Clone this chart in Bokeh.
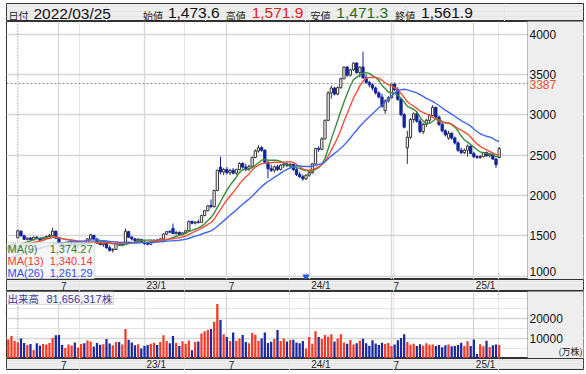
import numpy as np
import pandas as pd
from bokeh.plotting import figure
from bokeh.models import (ColumnDataSource, Range1d, FixedTicker, Grid, Span, Label,
                          LabelSet, BoxAnnotation)
from bokeh.layouts import column
from bokeh.embed import file_html
from bokeh.resources import INLINE
from bokeh.core.properties import value

# ---------------- data (weekly, week-ending Fridays) ----------------
first_friday = "2022-03-04"
cursor_day = "2022-03-25"

opens = [
    1330, 1360, 1390, 1473.6, 1555, 1500, 1455, 1470, 1450, 1480,
    1465, 1445, 1470, 1490, 1500, 1555, 1470, 1400, 1370, 1385,
    1395, 1400, 1370, 1390, 1405, 1400, 1460, 1505, 1460, 1410,
    1390, 1410, 1350, 1320, 1330, 1405, 1385, 1395, 1550, 1480,
    1460, 1440, 1455, 1420, 1400, 1395, 1420, 1445, 1435, 1460,
    1520, 1550, 1590, 1525, 1540, 1515, 1535, 1560, 1675, 1655,
    1670, 1665, 1750, 1810, 1875, 1860, 2060, 2350, 2290, 2320,
    2280, 2310, 2275, 2320, 2395, 2350, 2330, 2360, 2470, 2550,
    2590, 2560, 2410, 2330, 2310, 2355, 2320, 2375, 2390, 2370,
    2385, 2320, 2260, 2230, 2205, 2250, 2280, 2390, 2580, 2570,
    2700, 2930, 3270, 3330, 3255, 3335, 3445, 3590, 3490, 3555,
    3640, 3520, 3590, 3460, 3400, 3370, 3330, 3270, 3220, 3050,
    3170, 3210, 3380, 3310, 3190, 3000, 2590, 2720, 2940, 3010,
    2920, 2790, 2880, 2930, 2990, 3090, 2970, 2880, 2800, 2710,
    2770, 2710, 2650, 2560, 2530, 2560, 2610, 2520, 2480, 2470,
    2480, 2530, 2490, 2510, 2450, 2470]

highs = [
    1370, 1400, 1410, 1571.9, 1565, 1510, 1480, 1485, 1490, 1495,
    1475, 1480, 1500, 1520, 1600, 1565, 1480, 1420, 1400, 1410,
    1420, 1415, 1400, 1420, 1425, 1470, 1525, 1510, 1470, 1430,
    1420, 1420, 1380, 1345, 1415, 1420, 1410, 1590, 1560, 1500,
    1475, 1470, 1460, 1430, 1415, 1430, 1455, 1460, 1470, 1530,
    1560, 1570, 1650, 1560, 1555, 1545, 1575, 1690, 1690, 1680,
    1700, 1760, 1820, 1880, 1950, 2070, 2320, 2480, 2340, 2350,
    2330, 2340, 2330, 2410, 2410, 2390, 2380, 2480, 2570, 2620,
    2610, 2570, 2430, 2380, 2370, 2380, 2390, 2400, 2410, 2400,
    2390, 2340, 2290, 2260, 2260, 2300, 2400, 2590, 2610, 2720,
    2940, 3290, 3360, 3345, 3350, 3460, 3600, 3600, 3570, 3650,
    3650, 3600, 3780, 3500, 3420, 3390, 3350, 3290, 3260, 3190,
    3230, 3395, 3400, 3340, 3210, 3020, 2800, 2960, 3030, 3040,
    2950, 2900, 2950, 3010, 3120, 3100, 2990, 2900, 2820, 2800,
    2780, 2730, 2670, 2590, 2580, 2630, 2620, 2540, 2500, 2500,
    2540, 2545, 2530, 2520, 2460, 2600]

lows = [
    1310, 1345, 1375, 1471.3, 1490, 1445, 1440, 1445, 1440, 1455,
    1430, 1440, 1460, 1480, 1495, 1460, 1390, 1350, 1340, 1360,
    1375, 1360, 1350, 1375, 1385, 1395, 1455, 1450, 1400, 1380,
    1360, 1340, 1300, 1290, 1325, 1370, 1370, 1390, 1470, 1440,
    1420, 1425, 1410, 1390, 1380, 1385, 1410, 1420, 1430, 1455,
    1510, 1530, 1520, 1515, 1500, 1505, 1525, 1555, 1640, 1640,
    1650, 1660, 1740, 1800, 1840, 1850, 2050, 2260, 2250, 2260,
    2250, 2260, 2250, 2310, 2330, 2300, 2300, 2350, 2460, 2530,
    2540, 2390, 2210, 2290, 2280, 2300, 2310, 2340, 2350, 2330,
    2300, 2240, 2220, 2180, 2190, 2230, 2270, 2380, 2540, 2560,
    2690, 2920, 3200, 3240, 3240, 3320, 3440, 3470, 3470, 3540,
    3510, 3460, 3440, 3380, 3340, 3300, 3250, 3200, 3090, 3010,
    3150, 3200, 3290, 3170, 2980, 2830, 2390, 2700, 2900, 2900,
    2770, 2760, 2850, 2900, 2980, 2950, 2860, 2780, 2730, 2690,
    2690, 2630, 2540, 2510, 2510, 2480, 2510, 2460, 2450, 2450,
    2470, 2480, 2470, 2440, 2340, 2460]

closes = [
    1360, 1390, 1400, 1561.9, 1500, 1455, 1470, 1450, 1480, 1465,
    1445, 1470, 1490, 1505, 1555, 1470, 1400, 1370, 1385, 1395,
    1400, 1370, 1390, 1405, 1400, 1460, 1510, 1460, 1410, 1390,
    1410, 1350, 1320, 1330, 1405, 1385, 1395, 1555, 1480, 1460,
    1440, 1455, 1420, 1400, 1395, 1420, 1445, 1435, 1460, 1520,
    1550, 1545, 1525, 1540, 1515, 1535, 1560, 1675, 1655, 1670,
    1665, 1750, 1810, 1870, 1860, 2060, 2310, 2290, 2320, 2280,
    2310, 2275, 2320, 2395, 2350, 2330, 2360, 2470, 2550, 2590,
    2560, 2410, 2330, 2310, 2355, 2320, 2375, 2390, 2370, 2385,
    2320, 2260, 2230, 2205, 2250, 2280, 2390, 2580, 2570, 2700,
    2930, 3270, 3330, 3255, 3335, 3445, 3590, 3490, 3555, 3640,
    3520, 3590, 3460, 3400, 3370, 3330, 3270, 3220, 3100, 3170,
    3210, 3380, 3310, 3190, 3000, 2845, 2720, 2940, 3010, 2920,
    2790, 2880, 2930, 2990, 3090, 2970, 2880, 2800, 2750, 2770,
    2710, 2650, 2560, 2530, 2560, 2610, 2520, 2480, 2470, 2480,
    2530, 2490, 2510, 2450, 2380, 2580]

# weekly volume, in units of 10,000 shares (万株)
volumes = [
    9500, 11200, 8900, 8166, 10000, 7700, 6800, 7200, 4300, 7600,
    6500, 7300, 7000, 7800, 10300, 11600, 11800, 6800, 5200, 7000,
    6500, 8000, 5500, 7300, 7600, 9000, 8500, 6000, 7800, 6900,
    7100, 9800, 7500, 6600, 8300, 8200, 7000, 14800, 9400, 8000,
    6600, 7100, 5000, 6200, 6800, 7400, 7900, 6800, 8300, 11600,
    8800, 7600, 11200, 7700, 6300, 8600, 7400, 9000, 4100, 8200,
    8500, 12500, 13600, 14300, 14800, 18400, 27300, 19300, 12100, 10800,
    8800, 13000, 8900, 10000, 11800, 8300, 7600, 12800, 11900, 8900,
    10000, 13000, 7800, 8400, 9800, 14300, 8700, 10000, 8500, 9200,
    9400, 8000, 7600, 8800, 5000, 10700, 7400, 13600, 10800, 9800,
    11700, 10900, 12100, 8500, 10000, 12100, 8000, 7400, 9200, 7000,
    7600, 8900, 9900, 7600, 6400, 9100, 7500, 6800, 7900, 7200,
    7800, 6300, 7000, 9100, 10300, 12100, 8300, 6900, 7400, 6300,
    7100, 6400, 7600, 6900, 7000, 6200, 6800, 5600, 6600, 7000,
    6100, 6200, 6800, 7900, 6300, 8600, 6200, 9500, 2300, 7100,
    6100, 8900, 5800, 6600, 7000, 6800]

# closes of the weeks before the first drawn week (needed for the moving averages)
prior_closes = [1100, 1090, 1110,
                1120, 1135, 1150, 1160, 1165, 1175, 1180, 1190, 1195, 1200, 1210, 1225, 1267,
                1240, 1255, 1270, 1288,
                1314, 1334, 1329, 1349, 1325]

ma_periods = [9, 13, 26]
ma_names = ["MA(9)", "MA(13)", "MA(26)"]
ma_values_text = ["1,374.27", "1,340.14", "1,261.29"]

month_starts = ["2022-07-01", "2023-01-01", "2023-07-01", "2024-01-01", "2024-07-01", "2025-01-01"]
month_labels = ["7", "23/1", "7", "24/1", "7", "25/1"]
price_ticks = [1000, 1500, 2000, 2500, 3000, 3500, 4000]
vol_ticks = [10000, 20000]
ref_price = 3387
event_days = ["2023-12-22"]

hdr_labels = ["日付", "始値", "高値", "安値", "終値"]
hdr_values = ["2022/03/25", "1,473.6", "1,571.9", "1,471.3", "1,561.9"]
vol_title = "出来高"
vol_value = "81,656,317株"
vol_unit = "(万株)"

# ---------------- derived ----------------
dates = pd.date_range(first_friday, periods=len(closes), freq="7D")
o = np.array(opens, float); c = np.array(closes, float)
allc = pd.Series(prior_closes + closes, dtype=float)
n0 = len(prior_closes)
mas = [allc.rolling(n, min_periods=1).mean().to_numpy()[n0:] for n in ma_periods]

UP_LINE = "#333333"; DOWN = "#13239b"
up = c >= o
src = ColumnDataSource(dict(
    date=dates, high=highs, low=lows,
    top=np.maximum(o, c), bottom=np.minimum(o, c),
    wick=[UP_LINE if u else DOWN for u in up],
    fill=["#ffffff" if u else DOWN for u in up],
    vol=volumes,
    vcol=["#f23c28" if cc > oo else ("#1c2a9c" if cc < oo else "#999999") for oo, cc in zip(o, c)],
    ma9=mas[0], ma13=mas[1], ma26=mas[2],
))

def ms(ts):
    return pd.Timestamp(ts).value / 1e6

tick_ms = [ms(dates[dates < pd.Timestamp(m)].max()) for m in month_starts]
cursor_ms = ms(cursor_day)

W = 579            # total width
FW = 577           # frame width (data area + axis panel)
DW = 521           # data area width
PX_PER_WEEK = 3.167
px_ms = 7 * 86400000 / PX_PER_WEEK
x0 = cursor_ms - 11.3 * px_ms
xr = Range1d(x0, x0 + FW * px_ms)
GRAY = "#eeeeee"
GRID = "#d6d6d6"
FONT = "Liberation Sans"
JFONT = "Noto Sans CJK JP"
body_w = 5 * 86400000

def base(h, yr, bg="white"):
    f = figure(width=W, height=h, x_range=xr, y_range=yr,
               x_axis_location=None, y_axis_location=None,
               min_border_left=1, min_border_right=1, min_border_top=0, min_border_bottom=0,
               background_fill_color=bg, border_fill_color=GRAY,
               outline_line_color="#333333", output_backend="svg", toolbar_location=None)
    return f

def axis_panel(f, ticks, labels, lift=None):
    f.add_layout(BoxAnnotation(left=DW, right=FW + 2, bottom=-2, top=f.height + 2,
                               left_units="screen", right_units="screen",
                               bottom_units="screen", top_units="screen",
                               fill_color=GRAY, fill_alpha=1.0, line_color="#333333",
                               line_width=1))
    s = ColumnDataSource(dict(y=ticks, t=labels, dy=lift if lift else [0] * len(ticks)))
    f.add_layout(LabelSet(x=DW + 2, y="y", text="t", x_units="screen", y_offset="dy", source=s,
                          text_font=value(FONT), text_font_size="12px",
                          text_color="#111111", text_baseline="middle"))

# ---------------- header ----------------
hdr = figure(width=W, height=18, x_range=Range1d(0, W), y_range=Range1d(0, 18),
             x_axis_location=None, y_axis_location=None, min_border=0,
             background_fill_color=GRAY, border_fill_color=GRAY,
             outline_line_color="#333333", output_backend="svg", toolbar_location=None)
hdr.text(x=[2, 137, 220, 305, 390], y=[6.5] * 5, text=hdr_labels,
         text_font=value(JFONT), text_font_size="10px", text_color="#222222",
         text_baseline="middle")
hdr.text(x=[27, 162, 246, 331, 416], y=[8.5] * 5, text=hdr_values,
         text_color=["#111111", "#111111", "#e8201a", "#1e6e1e", "#111111"],
         text_font=value(FONT), text_font_size="15.5px", text_baseline="middle")

# ---------------- price chart ----------------
p = base(258, Range1d(957, 4155))
p.add_layout(Grid(dimension=1, ticker=FixedTicker(ticks=price_ticks),
                  grid_line_color=GRID, grid_line_width=1.3))
p.add_layout(Grid(dimension=0, ticker=FixedTicker(ticks=tick_ms),
                  grid_line_color=GRID, grid_line_width=1.3))
p.add_layout(Span(location=ref_price, dimension="width", line_color="#888888",
                  line_dash="2 2", line_width=1))
p.add_layout(Span(location=cursor_ms, dimension="height", line_color="#777777",
                  line_dash="1 2", line_width=1))

p.segment(x0="date", y0="low", x1="date", y1="high", line_color="wick", line_width=1, source=src)
p.vbar(x="date", width=body_w, top="top", bottom="bottom", fill_color="fill",
       line_color="wick", line_width=1, source=src)
ma_colors = ["#3a8c3a", "#f0503c", "#4466ee"]
for col, mc in zip(["ma9", "ma13", "ma26"], ma_colors):
    p.line(x="date", y=col, line_color=mc, line_width=1.4, source=src)

p.scatter(x=[ms(d) for d in event_days], y=[992] * len(event_days), marker="inverted_triangle",
          size=6, fill_color="#2a5ae8", line_color="#2a5ae8")

axis_panel(p, price_ticks, [str(t) for t in price_ticks], lift=[5, 0, 0, 0, 0, 0, 0])
p.add_layout(Label(x=DW + 2, y=ref_price, x_units="screen", y_units="data", text=str(ref_price),
                   text_color="#e8502a", text_font=FONT, text_font_size="12px",
                   text_baseline="middle", y_offset=-1))

p.add_layout(BoxAnnotation(left=0, right=88, bottom=0, top=37, left_units="screen",
                           right_units="screen", bottom_units="screen", top_units="screen",
                           fill_color="#f4f4f4", fill_alpha=0.8, line_color="#9a9a9a",
                           line_width=1))
leg_colors = ["#2e7d32", "#f0403a", "#3050f0"]
for i, (nm, vv, lc) in enumerate(zip(ma_names, ma_values_text, leg_colors)):
    yc = 31 - i * 12
    p.add_layout(Label(x=1, y=yc, x_units="screen", y_units="screen", text=nm, text_color=lc,
                       text_font=FONT, text_font_size="11px", text_baseline="middle"))
    p.add_layout(Label(x=86, y=yc, x_units="screen", y_units="screen", text=vv, text_color=lc,
                       text_font=FONT, text_font_size="11px", text_baseline="middle",
                       text_align="right"))

# ---------------- date bands ----------------
def band(h):
    b = base(h, Range1d(0, 1), bg=GRAY)
    b.text(x=tick_ms, y=[0.5] * len(tick_ms), text=month_labels, x_offset=2,
           text_align="left", text_baseline="middle", text_font=value(FONT),
           text_font_size="10px", text_color="#222222")
    return b

b1 = band(12)

# ---------------- volume chart ----------------
v = base(67, Range1d(0, 33500))
v.add_layout(Grid(dimension=1, ticker=FixedTicker(ticks=vol_ticks),
                  grid_line_color=GRID, grid_line_width=1.3))
v.add_layout(Grid(dimension=0, ticker=FixedTicker(ticks=tick_ms),
                  grid_line_color=GRID, grid_line_width=1.3))
v.add_layout(Span(location=cursor_ms, dimension="height", line_color="#777777",
                  line_dash="1 2", line_width=1))
v.vbar(x="date", width=body_w, top="vol", bottom=0, fill_color="vcol", line_color=None, source=src)
axis_panel(v, vol_ticks, [str(t) for t in vol_ticks])
v.add_layout(Label(x=FW - 1, y=7, x_units="screen", y_units="screen", text=vol_unit,
                   text_font=JFONT, text_font_size="9px", text_align="right",
                   text_baseline="middle", text_color="#222222"))
v.add_layout(BoxAnnotation(left=0, right=107, bottom=54, top=67, left_units="screen",
                           right_units="screen", bottom_units="screen", top_units="screen",
                           fill_color="#f4f4f4", fill_alpha=0.85, line_color="#9a9a9a",
                           line_width=1))
v.add_layout(Label(x=1, y=60, x_units="screen", y_units="screen", text=vol_title,
                   text_font=JFONT, text_font_size="10.5px", text_color="#3a3aa0",
                   text_baseline="middle"))
v.add_layout(Label(x=106, y=60, x_units="screen", y_units="screen", text=vol_value,
                   text_font=FONT, text_font_size="11px", text_color="#3a3aa0",
                   text_align="right", text_baseline="middle"))

b2 = band(12)

bot = base(5, Range1d(0, 1))
axis_panel(bot, [], [])

layout = column(hdr, p, b1, v, b2, bot, spacing=0,
                styles={"margin-left": "5px", "margin-top": "3px", "margin-bottom": "-12px"})

open("out.html", "w").write(file_html(layout, INLINE))
